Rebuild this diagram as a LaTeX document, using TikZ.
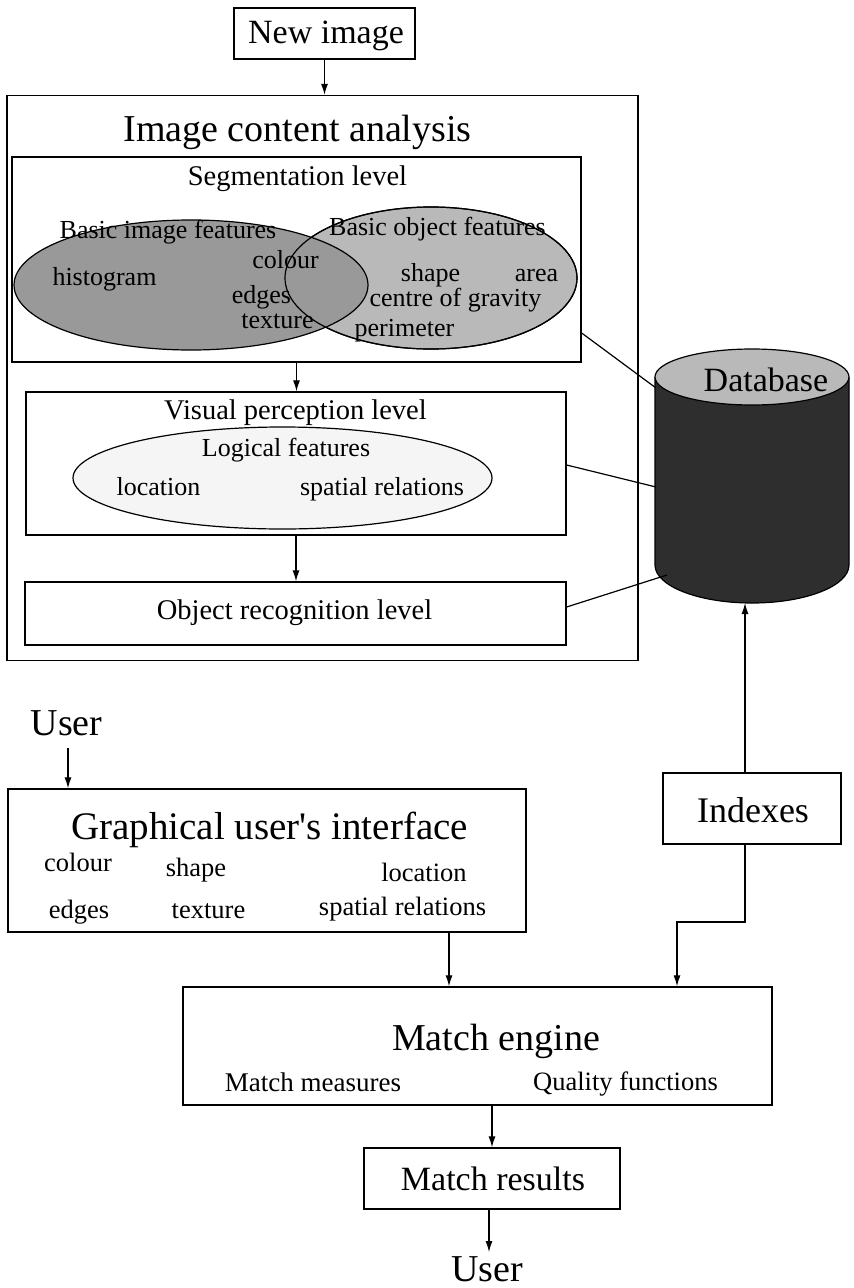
\documentclass[tikz,border=0pt]{standalone}
\usepackage{fontspec}
\setmainfont{Liberation Serif}
\usetikzlibrary{arrows.meta,shapes.geometric}
\newcommand\fsz[1]{\fontsize{#1}{#1}\selectfont}
\begin{document}
\begin{tikzpicture}[x=1pt,y=-1pt,
  box/.style={draw, line width=1.3pt, rectangle, inner sep=0pt},
  lbl/.style={anchor=base, inner sep=0pt},
  arr/.style={-{Latex[length=11pt,width=7pt]}, line width=1.2pt},
  ln/.style={line width=1.2pt},
  ell/.style={ellipse, draw, line width=1.2pt, inner sep=0pt},
  fA/.style={font=\fsz{38}},
  fB/.style={font=\fsz{34}},
  fC/.style={font=\fsz{28.5}},
  fD/.style={font=\fsz{26}},
  fE/.style={font=\fsz{26.5}}
]
\useasboundingbox (0,0) rectangle (854,1288);

% ---------- top ----------
\node[box, minimum width=181, minimum height=51] (ni) at (324.5,33.5) {};
\node[lbl, fB] (nit) at (326,43) {New image};

\node[box, minimum width=631, minimum height=565] (outer) at (322.5,378) {};
\node[lbl, fA] (ica) at (297.5,141) {Image content analysis};

% segmentation level
\node[box, minimum width=569, minimum height=205] (seg) at (296.5,259.5) {};
\node[lbl, fC] (segt) at (297.5,185) {Segmentation level};

\node[ell, fill=gray!55, minimum width=292, minimum height=142] (eobj) at (431,278) {};
\node[ell, fill=gray!80, minimum width=354, minimum height=130] (eimg) at (191,285) {};
\draw[line width=1.2pt] (431,278) ellipse [x radius=146, y radius=71];

\node[lbl, fD] (bif) at (168,238) {Basic image features};
\node[lbl, fD] (bof) at (437.5,235) {Basic object features};
\node[lbl, fD] (hist) at (104.5,285) {histogram};
\node[lbl, fD] (col1) at (285.5,268) {colour};
\node[lbl, fD] (edg1) at (261.5,303) {edges};
\node[lbl, fD] (tex1) at (277.5,328) {texture};
\node[lbl, fD] (shp1) at (430.5,281) {shape};
\node[lbl, fD] (area) at (536.5,281) {area};
\node[lbl, fD] (cog) at (455.5,306) {centre of gravity};
\node[lbl, fD] (per) at (404.5,336) {perimeter};

% visual perception level
\node[box, minimum width=540, minimum height=143] (vp) at (296,463.5) {};
\node[lbl, fC] (vpt) at (295.5,419) {Visual perception level};
\node[ell, fill=gray!8, minimum width=419, minimum height=102] (elog) at (282.5,478) {};
\node[lbl, fD] (logf) at (286,456) {Logical features};
\node[lbl, fD] (loc1) at (158.5,495) {location};
\node[lbl, fD] (spr1) at (382,495) {spatial relations};

% object recognition level
\node[box, minimum width=541, minimum height=63] (orl) at (295.5,613.5) {};
\node[lbl, fC] (orlt) at (294.5,619) {Object recognition level};

% ---------- database ----------
\fill[black!82] (655,377) -- (655,565) arc[start angle=180, end angle=0, x radius=97, y radius=38] -- (849,377) -- cycle;
\draw[ln] (655,377) -- (655,565) arc[start angle=180, end angle=0, x radius=97, y radius=38] -- (849,377);
\draw[ln, fill=gray!55] (752,377) ellipse [x radius=97, y radius=28];
\node[lbl, fB] (dbt) at (766,391) {Database};
\coordinate (dbA) at (656,388);
\coordinate (dbB) at (656,487);
\coordinate (dbC) at (667,575);
\coordinate (dbBot) at (745,603);

\draw[ln] (seg.east |- 0,333) -- (dbA);
\draw[ln] (vp.east |- 0,465) -- (dbB);
\draw[ln] (orl.east |- 0,607) -- (dbC);

% arrows inside
\draw[arr] (ni.south) -- (ni.south |- outer.north);
\draw[arr] (seg.south) -- (seg.south |- vp.north);
\draw[arr] (vp.south) -- (vp.south |- orl.north);

% ---------- lower part ----------
\node[lbl, fA] (user1) at (66.5,735) {User};
\node[box, minimum width=518, minimum height=143] (gui) at (267,860.5) {};
\node[lbl, font=\fsz{39}] (guit) at (269.5,839) {Graphical user\textquotesingle s interface};
\node[lbl, fE] (col2) at (78,871) {colour};
\node[lbl, fE] (shp2) at (196,876) {shape};
\node[lbl, fE] (loc2) at (424,881) {location};
\node[lbl, fE] (edg2) at (79,918) {edges};
\node[lbl, fE] (tex2) at (208.5,918) {texture};
\node[lbl, fE] (spr2) at (402.5,915) {spatial relations};
\coordinate (uarr) at (68,748);
\draw[arr] (uarr) -- (uarr |- gui.north);

\node[box, minimum width=178, minimum height=71] (idx) at (752,808.5) {};
\node[lbl, font=\fsz{36}] (idxt) at (753,822) {Indexes};
\draw[arr] (idx.north -| dbBot) -- (dbBot);

\node[box, minimum width=589, minimum height=118] (me) at (477.5,1046) {};
\node[lbl, font=\fsz{38}] (met) at (496,1050) {Match engine};
\node[lbl, font=\fsz{27}] (mm) at (313,1091) {Match measures};
\node[lbl, font=\fsz{26.5}] (qf) at (625.5,1090) {Quality functions};

\coordinate (g1) at (449,0);
\draw[arr] (gui.south -| g1) -- (me.north -| g1);
\coordinate (t1) at (745,922);
\coordinate (t2) at (677,922);
\draw[arr] (idx.south -| t1) -- (t1) -- (t2) -- (t2 |- me.north);

\node[box, minimum width=256, minimum height=61] (mr) at (492,1178.5) {};
\node[lbl, fB] (mrt) at (493,1190) {Match results};
\draw[arr] (me.south -| mr.north) -- (mr.north);

\node[lbl, fA] (user2) at (487,1281) {User};
\coordinate (u2) at (489,1252);
\draw[arr] (mr.south -| u2) -- (u2);
\end{tikzpicture}
\end{document}
